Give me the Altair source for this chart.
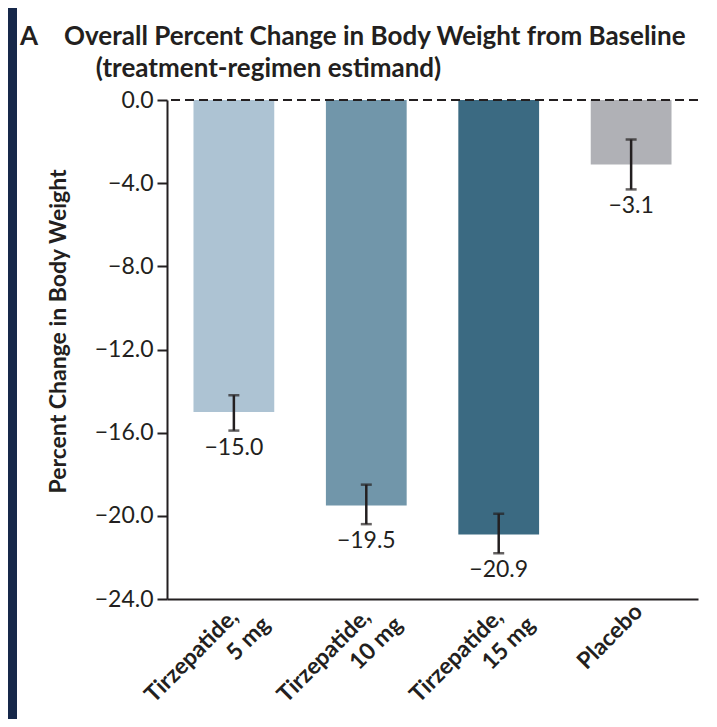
import altair as alt
import pandas as pd

ZW = "\u200b"
PAD = "\u2002\u00a0" + ZW
groups = ["Tirzepatide," + PAD + "|5 mg", "Tirzepatide," + PAD + "|10 mg",
          "Tirzepatide," + PAD + "|15 mg", "Placebo"]
means = [-15.0, -19.5, -20.9, -3.1]
ci_low = [-15.9, -20.4, -21.8, -4.3]
ci_high = [-14.2, -18.5, -19.9, -1.9]
colors = ["#adc3d3", "#7196aa", "#3b6a82", "#b0b1b6"]
y_ticks = [0, -4, -8, -12, -16, -20, -24]
title_lines = ["A\u2002\u2002Overall Percent Change in Body Weight from Baseline",
               ZW + "\u00a0" * 12 + "(treatment-regimen estimand)"]

df = pd.DataFrame({"group": groups, "mean": means, "lo": ci_low, "hi": ci_high})

FONT = "Lato"
INK = "#231f20"
IS_TWO_LINE = "datum.value !== 'Placebo'"

x_enc = alt.X(
    "group:N",
    sort=groups,
    scale=alt.Scale(paddingInner=0.39, paddingOuter=0.2),
    axis=alt.Axis(
        title=None,
        labelExpr="split(datum.label, '|')",
        labelAngle=-45,
        labelAlign="right",
        labelBaseline="top",
        labelFont=FONT,
        labelFontSize=23,
        labelFontWeight="bold",
        labelColor=INK,
        labelOffset={"condition": {"test": IS_TWO_LINE, "value": 5}, "value": 0},
        labelPadding={"condition": {"test": IS_TWO_LINE, "value": -6}, "value": 1},
        labelLineHeight=28,
        ticks=False,
        domainColor=INK,
        domainWidth=2,
    ),
)

y_scale = alt.Scale(domain=[-24, 0], nice=False, zero=False)
y_axis = alt.Axis(
    title="Percent Change in Body Weight",
    values=y_ticks,
    format=".1f",
    grid=False,
    tickSize=10,
    tickWidth=2,
    tickColor=INK,
    domainColor=INK,
    domainWidth=2,
    labelFont=FONT,
    labelFontSize=23,
    labelColor=INK,
    labelPadding=4,
    titleFont=FONT,
    titleFontSize=23,
    titleFontWeight="bold",
    titleColor=INK,
    titleX=-97,
    titleY=231,
)

base = alt.Chart(df)

bars = base.mark_bar().encode(
    x=x_enc,
    y=alt.Y("mean:Q", scale=y_scale, axis=y_axis),
    y2=alt.datum(0),
    color=alt.Color("group:N", scale=alt.Scale(domain=groups, range=colors), legend=None),
)

zero_line = alt.Chart(pd.DataFrame({"z": [0]})).mark_rule(
    strokeDash=[9, 5], strokeWidth=2, color=INK
).encode(y=alt.Y("z:Q", scale=y_scale))

err = base.mark_rule(strokeWidth=2.5, color=INK).encode(
    x=alt.X("group:N", sort=groups), y="lo:Q", y2="hi:Q"
)
cap_lo = base.mark_tick(orient="horizontal", size=11, thickness=2.5, color=INK).encode(
    x=alt.X("group:N", sort=groups), y="lo:Q"
)
cap_hi = base.mark_tick(orient="horizontal", size=11, thickness=2.5, color=INK).encode(
    x=alt.X("group:N", sort=groups), y="hi:Q"
)
labels = base.mark_text(baseline="top", dy=6, fontSize=23, font=FONT, color=INK).encode(
    x=alt.X("group:N", sort=groups), y="lo:Q", text=alt.Text("mean:Q", format=".1f")
)

strip = alt.Chart(pd.DataFrame({"a": [0]})).mark_rect(color="#16284a").encode(
    x=alt.value(-159), x2=alt.value(-150), y=alt.value(-92), y2=alt.value(628)
)

chart = alt.layer(strip, bars, zero_line, err, cap_lo, cap_hi, labels).properties(
    width=531,
    height=499,
    autosize="none",
    padding={"left": 159, "top": 92, "right": 11, "bottom": 120},
    title=alt.TitleParams(
        text=title_lines,
        anchor="start",
        frame="group",
        dx=-147,
        dy=74,
        offset=0,
        font=FONT,
        fontSize=26,
        fontWeight="bold",
        color=INK,
        lineHeight=32,
    ),
).configure_view(stroke=None)

chart.save("out.html", embed_options={"renderer": "svg", "actions": False})
